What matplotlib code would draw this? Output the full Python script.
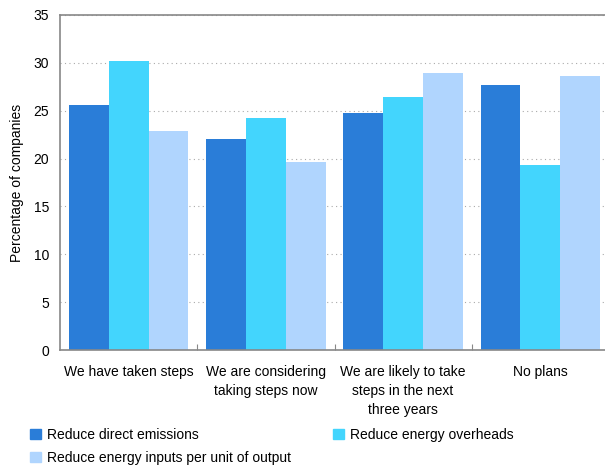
import numpy as np
import matplotlib.pyplot as plt
from matplotlib.patches import Patch

plt.rcParams['font.family'] = ['Liberation Sans', 'DejaVu Sans']

categories = ["We have taken steps", "We are considering\ntaking steps now",
              "We are likely to take\nsteps in the next\nthree years", "No plans"]
series_names = ["Reduce direct emissions", "Reduce energy overheads",
                "Reduce energy inputs per unit of output"]
direct = [25.6, 22.0, 24.8, 27.7]
overheads = [30.2, 24.2, 26.4, 19.3]
inputs = [22.9, 19.6, 28.9, 28.6]
colors = ["#2a7dd8", "#43d5fd", "#b0d5fe"]

fig = plt.figure(figsize=(6.05, 4.68), dpi=100)
ax = fig.add_axes([60 / 605, 1 - 350 / 468, 549 / 605, 335 / 468])

x = np.arange(len(categories))
w = 0.29
for i, vals in enumerate([direct, overheads, inputs]):
    ax.bar(x + (i - 1) * w, vals, width=w, color=colors[i], zorder=2)

ax.set_xlim(-0.5, 3.5)
ax.set_ylim(0, 35)
ax.set_yticks(range(0, 36, 5))
ax.yaxis.grid(True, linestyle=(0, (1, 3)), color="#aaaaaa", linewidth=0.8, zorder=0)
ax.set_xticks([0.5, 1.5, 2.5])
ax.set_xticklabels([])
ax.tick_params(axis='x', direction='in', length=4, color="#888888")
ax.tick_params(axis='y', length=0, labelsize=10, pad=8)
for s in ['left', 'top', 'bottom']:
    ax.spines[s].set_color("#888888")
    ax.spines[s].set_linewidth(1.2)
ax.spines['right'].set_visible(False)

for xi, lab in zip(x, categories):
    ax.text(xi, -1.6, lab, ha='center', va='top', fontsize=10, linespacing=1.45)

ax.set_ylabel("Percentage of companies", fontsize=10, labelpad=7)

handles = [Patch(color=c) for c in colors]
fig.legend(handles[:2], series_names[:2], loc='upper left', bbox_to_anchor=(30 / 605, 1 - 428 / 468),
           ncol=2, frameon=False, fontsize=10, handlelength=0.8, handleheight=0.8,
           handletextpad=0.4, columnspacing=9.7, borderaxespad=0, borderpad=0)
fig.legend(handles[2:], series_names[2:], loc='upper left', bbox_to_anchor=(30 / 605, 1 - 451 / 468),
           frameon=False, fontsize=10, handlelength=0.8, handleheight=0.8,
           handletextpad=0.4, borderaxespad=0, borderpad=0)

fig.savefig("out.png", dpi=100)
